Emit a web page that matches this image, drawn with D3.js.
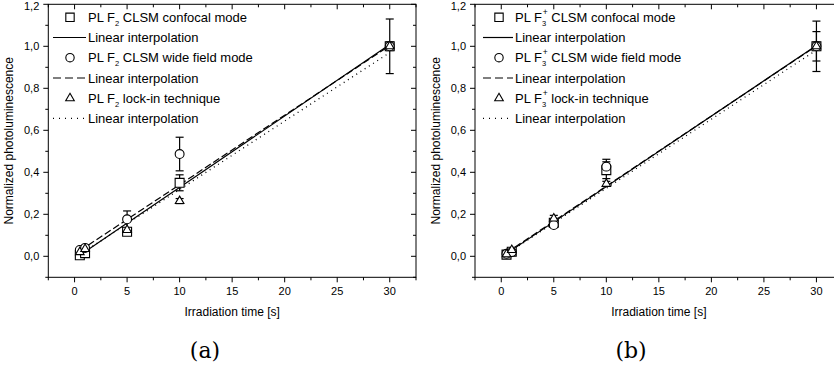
<!DOCTYPE html>
<html>
<head>
<meta charset="utf-8">
<script src="https://cdn.jsdelivr.net/npm/d3@7"></script>
<style>
  html, body { margin: 0; padding: 0; background: #fff; }
  svg { display: block; }
  text { font-family: "Liberation Sans", Arial, sans-serif; fill: #000; }
</style>
</head>
<body>
<svg id="chart" width="834" height="371"></svg>
<script>
// Axis ticks
const xTicks = [0, 5, 10, 15, 20, 25, 30];
const yTicks = [0, 0.2, 0.4, 0.6, 0.8, 1.0, 1.2];

// Irradiation times (s)
const times = [0.5, 1, 5, 10, 30];

// (a) F2 centres
const confocalA = [0.005, 0.015, 0.117, 0.350, 1.0];
const confocalErrA = [0.005, 0.006, 0.012, 0.038, 0.13];
const wideA = [0.030, 0.040, 0.176, 0.487, 1.0];
const wideErrA = [0.006, 0.008, 0.040, 0.080, 0.02];
const lockinA = [0.020, 0.035, 0.125, 0.263, 1.0];
const lockinErrA = [0.004, 0.005, 0.010, 0.012, 0.02];
// linear fits: solid, dashed, dotted
const fitSlopeA = [0.0340, 0.0331, 0.0326];
const fitInterceptA = [-0.012, 0.010, -0.008];

// (b) F3+ centres
const confocalB = [0.008, 0.022, 0.160, 0.410, 1.0];
const confocalErrB = [0.005, 0.006, 0.012, 0.040, 0.12];
const wideB = [0.012, 0.020, 0.149, 0.427, 1.0];
const wideErrB = [0.005, 0.006, 0.012, 0.035, 0.07];
const lockinB = [0.010, 0.030, 0.180, 0.345, 1.0];
const lockinErrB = [0.004, 0.008, 0.015, 0.012, 0.02];
const fitSlopeB = [0.0336, 0.0334, 0.0329];
const fitInterceptB = [-0.004, 0.000, -0.005];

const legendA = ["CLSM confocal mode", "CLSM wide field mode", "lock-in technique"];
const fitLabel = "Linear interpolation";

const svg = d3.select("#chart");
const yScale = d3.scaleLinear().domain([-0.1, 1.2]).range([277.3, 4.3]);
const dashStyles = [null, "7,3", "1,4"];

function drawPanel(opt) {
  const x = d3.scaleLinear().domain([-2.5, 32.5]).range([opt.left, opt.left + 367.7]);
  const y = yScale;
  const g = svg.append("g");
  const [x0, x1] = x.range();
  const [yb, yt] = y.range();

  // frame
  g.append("rect").attr("x", x0).attr("y", yt).attr("width", x1 - x0).attr("height", yb - yt)
    .attr("fill", "none").attr("stroke", "#000").attr("stroke-width", 1);

  // x ticks (bottom outward, top inward)
  const xMinor = d3.range(-2.5, 32.6, 2.5).filter(v => !xTicks.includes(v));
  xTicks.concat(xMinor).forEach(v => {
    const len = xTicks.includes(v) ? 5 : 3;
    g.append("line").attr("x1", x(v)).attr("x2", x(v)).attr("y1", yb).attr("y2", yb + len)
      .attr("stroke", "#000");
    g.append("line").attr("x1", x(v)).attr("x2", x(v)).attr("y1", yt).attr("y2", yt + len)
      .attr("stroke", "#000");
  });
  xTicks.forEach(v => {
    g.append("text").attr("x", x(v)).attr("y", yb + 18).attr("text-anchor", "middle")
      .attr("font-size", 11).text(v);
  });

  // y ticks (left outward, right inward)
  const yMinor = d3.range(-1, 13).map(i => i / 10).filter(v => !yTicks.some(t => Math.abs(t - v) < 1e-9));
  yTicks.concat(yMinor).forEach(v => {
    const len = yTicks.some(t => Math.abs(t - v) < 1e-9) ? 5 : 3;
    g.append("line").attr("x1", x0 - len).attr("x2", x0).attr("y1", y(v)).attr("y2", y(v))
      .attr("stroke", "#000");
    g.append("line").attr("x1", x1 - len).attr("x2", x1).attr("y1", y(v)).attr("y2", y(v))
      .attr("stroke", "#000");
  });
  yTicks.forEach(v => {
    g.append("text").attr("x", x0 - 9).attr("y", Math.max(y(v) + 4, 9.5)).attr("text-anchor", "end")
      .attr("font-size", 11).text(d3.format(".1f")(v).replace(".", ","));
  });

  // axis titles
  g.append("text").attr("x", (x0 + x1) / 2).attr("y", 316).attr("text-anchor", "middle")
    .attr("font-size", 12).text("Irradiation time [s]");
  g.append("text").attr("transform", `translate(${opt.left - 35},${(yb + yt) / 2}) rotate(-90)`)
    .attr("text-anchor", "middle").attr("font-size", 12).text("Normalized photoluminescence");

  // caption
  g.append("text").attr("x", opt.captionX).attr("y", 358).attr("text-anchor", "middle")
    .attr("font-size", 22)
    .style("font-family", "'DejaVu Serif', 'Liberation Serif', serif")
    .style("font-weight", "200")
    .text(opt.caption);

  // fit lines
  opt.fitSlope.forEach((s, i) => {
    const line = d3.line().x(d => x(d)).y(d => y(s * d + opt.fitIntercept[i]));
    g.append("path").attr("d", line([times[0], times[times.length - 1]]))
      .attr("fill", "none").attr("stroke", "#000").attr("stroke-width", i === 2 ? 1.3 : 1.2)
      .attr("stroke-dasharray", dashStyles[i]);
  });

  // series: error bars + markers
  const series = [
    { vals: opt.confocal, errs: opt.confocalErr, sym: d3.symbolSquare, size: 80 },
    { vals: opt.wide, errs: opt.wideErr, sym: d3.symbolCircle, size: 62 },
    { vals: opt.lockin, errs: opt.lockinErr, sym: d3.symbolTriangle, size: 32 }
  ];
  series.forEach(s => {
    times.forEach((t, i) => {
      const lo = s.vals[i] - s.errs[i], hi = s.vals[i] + s.errs[i];
      g.append("line").attr("x1", x(t)).attr("x2", x(t)).attr("y1", y(lo)).attr("y2", y(hi))
        .attr("stroke", "#000").attr("stroke-width", 1.2);
      [lo, hi].forEach(v => g.append("line").attr("x1", x(t) - 4).attr("x2", x(t) + 4)
        .attr("y1", y(v)).attr("y2", y(v)).attr("stroke", "#000").attr("stroke-width", 1.2));
    });
  });
  series.forEach(s => {
    times.forEach((t, i) => {
      g.append("path").attr("d", d3.symbol().type(s.sym).size(s.size)())
        .attr("transform", `translate(${x(t)},${y(s.vals[i])})`)
        .attr("fill", "#fff").attr("stroke", "#000").attr("stroke-width", 1.1);
    });
  });

  // legend
  const rowY = [17.3, 37.5, 57.7, 78, 98.2, 118.4];
  const lg = g.append("g");
  const syms = [d3.symbolSquare, d3.symbolCircle, d3.symbolTriangle];
  const symSize = [70, 55, 32];
  for (let k = 0; k < 3; k++) {
    const ry = rowY[2 * k], ly = rowY[2 * k + 1];
    lg.append("path").attr("d", d3.symbol().type(syms[k]).size(symSize[k])())
      .attr("transform", `translate(${opt.legSymX},${ry})`)
      .attr("fill", "#fff").attr("stroke", "#000").attr("stroke-width", 1.1);
    const t = lg.append("text").attr("x", opt.legTextX).attr("y", ry + 4.5).attr("font-size", 13);
    t.append("tspan").text("PL F");
    t.append("tspan").attr("font-size", 7.5).attr("dy", 4).text(opt.sub);
    if (opt.sup) {
      t.append("tspan").attr("font-size", 8.5).attr("dy", -11).attr("dx", -3.5).text(opt.sup);
      t.append("tspan").attr("dy", 7).text(" " + legendA[k]);
    } else {
      t.append("tspan").attr("dy", -4).text(" " + legendA[k]);
    }
    lg.append("line").attr("x1", opt.legLineX0).attr("x2", opt.legLineX1).attr("y1", ly).attr("y2", ly)
      .attr("stroke", "#000").attr("stroke-width", k === 2 ? 1.3 : 1.2)
      .attr("stroke-dasharray", k === 1 ? "8,4" : (k === 2 ? "1,5" : null));
    lg.append("text").attr("x", opt.legTextX).attr("y", ly + 4.5).attr("font-size", 13).text(fitLabel);
  }
}

drawPanel({
  left: 48.3, caption: "(a)", captionX: 205, sub: "2", sup: null,
  confocal: confocalA, confocalErr: confocalErrA, wide: wideA, wideErr: wideErrA,
  lockin: lockinA, lockinErr: lockinErrA, fitSlope: fitSlopeA, fitIntercept: fitInterceptA,
  legSymX: 70, legTextX: 88, legLineX0: 53, legLineX1: 86
});
drawPanel({
  left: 475, caption: "(b)", captionX: 631, sub: "3", sup: "+",
  confocal: confocalB, confocalErr: confocalErrB, wide: wideB, wideErr: wideErrB,
  lockin: lockinB, lockinErr: lockinErrB, fitSlope: fitSlopeB, fitIntercept: fitInterceptB,
  legSymX: 499, legTextX: 515, legLineX0: 483, legLineX1: 513
});
</script>
</body>
</html>
